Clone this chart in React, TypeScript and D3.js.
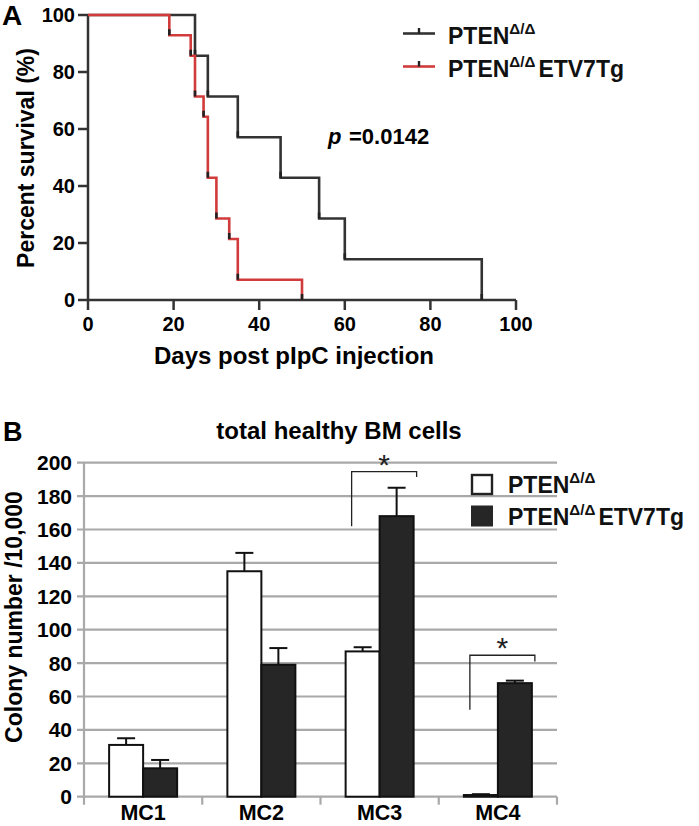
import React from 'react';
import * as d3 from 'd3';

// panel A: Kaplan-Meier survival
const ctrlDays = [0, 25, 28, 35, 45, 54, 60, 92];
const ctrlSurv = [100, 85.7, 71.4, 57.1, 42.9, 28.6, 14.3, 0];
const tgDays = [0, 19, 24, 25, 27, 28, 30, 33, 35, 50];
const tgSurv = [100, 92.9, 85.7, 71.4, 64.3, 42.9, 28.6, 21.4, 7.1, 0];
const dayTicks = [0, 20, 40, 60, 80, 100];
const survTicks = [0, 20, 40, 60, 80, 100];

// panel B: colony counts
const colonies = ['MC1', 'MC2', 'MC3', 'MC4'];
const ctrlColonies = [31, 135, 87, 1];
const ctrlErr = [4, 11, 2.5, 0.5];
const tgColonies = [17, 79, 168, 68];
const tgErr = [5, 10, 17, 1.5];
const colonyTicks = [0, 20, 40, 60, 80, 100, 120, 140, 160, 180, 200];
// significance brackets: category, top, left foot, right foot
const sigCats = ['MC3', 'MC4'];
const sigTop = [194.6, 84.7];
const sigLeft = [162, 52];
const sigRight = [191.5, 81];

const FONT = 'Liberation Sans, Arial, Helvetica, sans-serif';
const RED = '#d13b3b';
const DARK = '#333';

function Genotype({x, y, size, tg}: {x: number; y: number; size: number; tg?: boolean}) {
  return (
    <text x={x} y={y} fontFamily={FONT} fontWeight="bold" fontSize={size} fill="#111">
      PTEN
      <tspan fontSize={size * 0.66} dy={-size * 0.42}>Δ/Δ</tspan>
      {tg ? <tspan dy={size * 0.42} dx={3}>ETV7Tg</tspan> : null}
    </text>
  );
}

function Survival() {
  const x = d3.scaleLinear().domain([0, 100]).range([88, 516]);
  const y = d3.scaleLinear().domain([0, 100]).range([300, 15]);
  const line = d3
    .line<number>()
    .x(d => x(d))
    .curve(d3.curveStepAfter);
  const path = (days: number[], surv: number[]) =>
    line.y((_, i) => y(surv[i]))(days) || '';

  // Prism draws a small tick symbol at each event
  const ticksFor = (days: number[], surv: number[]) =>
    days.slice(1).map((d, i) => (
      <line key={'t' + d} x1={x(d)} x2={x(d)} y1={y(surv[i + 1])} y2={y(surv[i + 1]) - 6} stroke="#222" strokeWidth={2.6} />
    ));

  return (
    <g>
      <text x={2} y={25} fontFamily={FONT} fontWeight="bold" fontSize={28}>A</text>
      <line x1={x(0)} x2={x(0)} y1={y(100)} y2={y(0)} stroke={DARK} strokeWidth={2.5} />
      <line x1={x(0)} x2={x(100)} y1={y(0)} y2={y(0)} stroke={DARK} strokeWidth={2.5} />
      {survTicks.map(t => (
        <g key={'ys' + t}>
          <line x1={x(0) - 10} x2={x(0)} y1={y(t)} y2={y(t)} stroke={DARK} strokeWidth={2.5} />
          <text x={x(0) - 13} y={y(t) + 7} textAnchor="end" fontFamily={FONT} fontWeight="bold" fontSize={20}>{t}</text>
        </g>
      ))}
      {dayTicks.map(t => (
        <g key={'xd' + t}>
          <line x1={x(t)} x2={x(t)} y1={y(0)} y2={y(0) + 10} stroke={DARK} strokeWidth={2.5} />
          <text x={x(t)} y={331} textAnchor="middle" fontFamily={FONT} fontWeight="bold" fontSize={20}>{t}</text>
        </g>
      ))}
      <text x={294} y={364} textAnchor="middle" fontFamily={FONT} fontWeight="bold" fontSize={24}>Days post pIpC injection</text>
      <text transform="translate(34,158) rotate(-90)" textAnchor="middle" fontFamily={FONT} fontWeight="bold" fontSize={23}>Percent survival (%)</text>

      <path d={path(ctrlDays, ctrlSurv)} fill="none" stroke={DARK} strokeWidth={2.6} />
      {ticksFor(ctrlDays, ctrlSurv)}
      <path d={path(tgDays, tgSurv)} fill="none" stroke={RED} strokeWidth={2.6} />
      {ticksFor(tgDays, tgSurv)}

      {/* legend */}
      <line x1={403} x2={435} y1={33.5} y2={33.5} stroke={DARK} strokeWidth={2.6} />
      <line x1={419} x2={419} y1={33.5} y2={28} stroke="#222" strokeWidth={2.4} />
      <Genotype x={448} y={43.5} size={23} />
      <line x1={403} x2={435} y1={66.5} y2={66.5} stroke={RED} strokeWidth={2.6} />
      <line x1={419} x2={419} y1={66.5} y2={61} stroke="#222" strokeWidth={2.4} />
      <Genotype x={448} y={76.5} size={23} tg />

      <text y={144} fontFamily={FONT} fontWeight="bold" fontSize={22}>
        <tspan x={328} fontStyle="italic">p</tspan>
        <tspan x={349}>=0.0142</tspan>
      </text>
    </g>
  );
}

function Colonies() {
  const x = d3.scaleBand().domain(colonies).range([84, 557]);
  const y = d3.scaleLinear().domain([0, 200]).range([796.7, 462.7]);
  const bw = 34;
  const grid = '#a9a9a9';

  return (
    <g>
      <text x={3} y={441} fontFamily={FONT} fontWeight="bold" fontSize={27}>B</text>
      <text x={339} y={439} textAnchor="middle" fontFamily={FONT} fontWeight="bold" fontSize={24}>total healthy BM cells</text>

      {colonyTicks.map(t => (
        <g key={'g' + t}>
          <line x1={77} x2={557} y1={y(t)} y2={y(t)} stroke={grid} strokeWidth={2.2} />
          <text x={72} y={y(t) + 7.5} textAnchor="end" fontFamily={FONT} fontWeight="bold" fontSize={21}>{t}</text>
        </g>
      ))}
      <line x1={84} x2={84} y1={y(200)} y2={y(0) + 8} stroke={grid} strokeWidth={2.2} />
      {colonies.map(c => (
        <line key={'ct' + c} x1={(x(c) as number) + x.bandwidth()} x2={(x(c) as number) + x.bandwidth()} y1={y(0)} y2={y(0) + 8} stroke={grid} strokeWidth={2.2} />
      ))}
      <text transform="translate(22,617) rotate(-90)" textAnchor="middle" fontFamily={FONT} fontWeight="bold" fontSize={23}>Colony number /10,000</text>

      {colonies.map((c, i) => {
        const cx = (x(c) as number) + x.bandwidth() / 2;
        const bars = [
          {v: ctrlColonies[i], e: ctrlErr[i], x0: cx - bw, fill: '#fff'},
          {v: tgColonies[i], e: tgErr[i], x0: cx, fill: '#262626'},
        ];
        return (
          <g key={c}>
            {bars.map((b, j) => (
              <g key={j}>
                <line x1={b.x0 + bw / 2} x2={b.x0 + bw / 2} y1={y(b.v)} y2={y(b.v + b.e)} stroke="#111" strokeWidth={2} />
                <line x1={b.x0 + bw / 2 - 9} x2={b.x0 + bw / 2 + 9} y1={y(b.v + b.e)} y2={y(b.v + b.e)} stroke="#111" strokeWidth={2} />
                <rect x={b.x0} y={y(b.v)} width={bw} height={y(0) - y(b.v)} fill={b.fill} stroke="#111" strokeWidth={2} />
              </g>
            ))}
            <text x={cx} y={820} textAnchor="middle" fontFamily={FONT} fontWeight="bold" fontSize={21.5}>{c}</text>
          </g>
        );
      })}

      {sigCats.map((c, i) => {
        const cx = (x(c) as number) + x.bandwidth() / 2;
        const l = cx - bw + 6;
        const r = cx + bw + 3;
        return (
          <g key={'s' + c}>
            <path d={`M${l},${y(sigLeft[i])}V${y(sigTop[i])}H${r}V${y(sigRight[i])}`} fill="none" stroke="#222" strokeWidth={1.3} />
            <text x={(l + r) / 2} y={y(sigTop[i]) + 3} textAnchor="middle" fontFamily={FONT} fontSize={30} fill="#222">*</text>
          </g>
        );
      })}

      {/* legend */}
      <rect x={472} y={475} width={20} height={19} fill="#fff" stroke="#222" strokeWidth={2.4} />
      <rect x={471} y={505.5} width={22} height={21} fill="#262626" />
      <Genotype x={508} y={492.5} size={23} />
      <Genotype x={508} y={525} size={23} tg />
    </g>
  );
}

export default function App() {
  return (
    <svg width={699} height={826} viewBox="0 0 699 826" style={{position: 'absolute', left: 0, top: 0, background: '#fff'}}>
      <rect width={699} height={826} fill="#fff" />
      <Survival />
      <Colonies />
    </svg>
  );
}
